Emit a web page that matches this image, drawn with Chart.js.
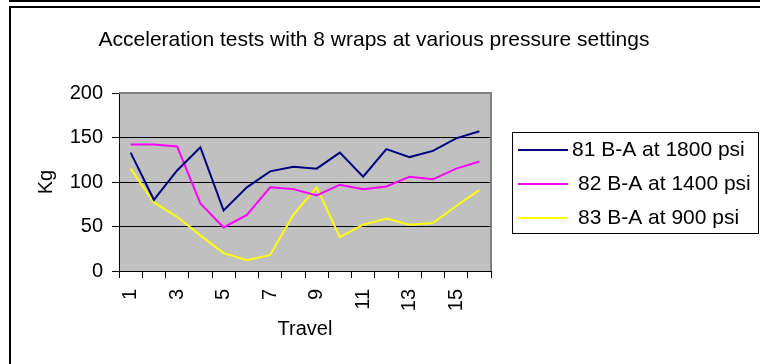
<!DOCTYPE html>
<html>
<head>
<meta charset="utf-8">
<style>
  html, body { margin: 0; padding: 0; background: #fff; }
  #wrap { position: relative; width: 760px; height: 364px; overflow: hidden; }
  #chart { position: absolute; left: 0; top: 0; }
  .rule { position: absolute; background: #000; }
</style>
<script src="https://cdn.jsdelivr.net/npm/chart.js@4/dist/chart.umd.min.js"></script>
</head>
<body>
<div id="wrap">
  <canvas id="chart" width="760" height="364"></canvas>
  <div class="rule" style="left:9px; top:0; width:751px; height:2px;"></div>
  <div class="rule" style="left:9px; top:6px; width:751px; height:2px;"></div>
  <div class="rule" style="left:9px; top:6px; width:2px; height:358px;"></div>
</div>
<script>
// Travel positions 1..16
const categories = ['1','2','3','4','5','6','7','8','9','10','11','12','13','14','15','16'];

// Measured load (Kg) per run
const run81 = [133, 80, 113, 139, 68, 94, 112, 117, 115, 133, 106, 137, 128, 135, 149, 157];
const run82 = [142, 142, 140, 76, 49, 63, 94, 92, 85, 97, 92, 95, 106, 103, 115, 123];
const run83 = [115, 77, 61, 40, 20, 12, 18, 63, 94, 38, 52, 59, 52, 54, 73, 91];

const seriesLabels = ['81 B-A at 1800 psi', '82 B-A at 1400 psi', '83 B-A at 900 psi'];
const seriesColors = ['#000080', '#FF00FF', '#FFFF00'];

const yTicks = [0, 50, 100, 150, 200];

const titleText = 'Acceleration tests with 8 wraps at various pressure settings';
const FONT = "'Liberation Sans', Arial, sans-serif";
const FS = 19;       // axis title text
const FS_BIG = 21;   // heading and legend text

// Grey plot background with a light frame on top and right
const plotFrame = {
  id: 'plotFrame',
  beforeDraw(chart) {
    const { ctx, chartArea: a } = chart;
    ctx.save();
    ctx.fillStyle = '#C0C0C0';
    ctx.fillRect(a.left, a.top, a.right - a.left, a.bottom - a.top);
    ctx.restore();
  },
  beforeDatasetsDraw(chart) {
    const { ctx, chartArea: a } = chart;
    ctx.save();
    ctx.strokeStyle = '#808080';
    ctx.lineWidth = 2;
    ctx.beginPath();
    ctx.moveTo(a.left, a.top);
    ctx.lineTo(a.right, a.top);
    ctx.lineTo(a.right, a.bottom);
    ctx.stroke();
    ctx.restore();
  }
};

// Heading text above the plot
const heading = {
  id: 'heading',
  afterDraw(chart, args, opts) {
    const { ctx } = chart;
    ctx.save();
    ctx.font = `${FS_BIG}px ${FONT}`;
    ctx.fillStyle = '#000';
    ctx.textAlign = 'center';
    ctx.textBaseline = 'middle';
    ctx.fillText(opts.text, opts.x, opts.y);
    ctx.restore();
  }
};

// Boxed legend to the right of the plot
const boxLegend = {
  id: 'boxLegend',
  afterDraw(chart, args, opts) {
    const { ctx } = chart;
    ctx.save();
    ctx.fillStyle = '#fff';
    ctx.fillRect(opts.left, opts.top, opts.width, opts.height);
    ctx.strokeStyle = '#000';
    ctx.lineWidth = 1;
    ctx.strokeRect(opts.left + 0.5, opts.top + 0.5, opts.width, opts.height);
    ctx.font = `${FS_BIG}px ${FONT}`;
    ctx.textBaseline = 'middle';
    ctx.textAlign = 'left';
    chart.data.datasets.forEach((ds, i) => {
      const y = opts.rows[i];
      ctx.strokeStyle = ds.borderColor;
      ctx.lineWidth = 2;
      ctx.beginPath();
      ctx.moveTo(opts.left + 6, y);
      ctx.lineTo(opts.left + 56, y);
      ctx.stroke();
      ctx.fillStyle = '#000';
      ctx.fillText(ds.label, opts.textX[i], y);
    });
    ctx.restore();
  }
};

const datasets = [run81, run82, run83].map((vals, i) => ({
  label: seriesLabels[i],
  data: vals,
  borderColor: seriesColors[i],
  backgroundColor: seriesColors[i],
  borderWidth: 2,
  pointRadius: 0,
  tension: 0,
  fill: false
}));

new Chart(document.getElementById('chart'), {
  type: 'line',
  data: { labels: categories, datasets },
  plugins: [plotFrame, heading, boxLegend],
  options: {
    responsive: false,
    animation: false,
    layout: { padding: { left: 0, top: 93, right: 269, bottom: 0 } },
    plugins: {
      legend: { display: false },
      title: { display: false },
      tooltip: { enabled: false },
      heading: { text: titleText, x: 374, y: 40 },
      boxLegend: { left: 512, top: 132, width: 246, height: 101, rows: [150, 184, 218], textX: [572, 578, 578] }
    },
    scales: {
      x: {
        type: 'category',
        offset: true,
        afterFit(scale) { scale.height = 93; },
        grid: { display: true, drawOnChartArea: false, drawTicks: true, tickLength: 7, offset: true, color: '#000', tickColor: '#000' },
        border: { display: true, color: '#000', width: 1 },
        ticks: {
          autoSkip: false,
          minRotation: 90,
          maxRotation: 90,
          padding: 11,
          color: '#000',
          font: { family: FONT, size: 20 },
          callback(value, index) { return index % 2 === 0 ? categories[index] : ''; }
        },
        title: { display: true, text: 'Travel', color: '#000', font: { family: FONT, size: 20 }, padding: { top: 0, bottom: 23 } }
      },
      y: {
        min: 0,
        max: 200,
        afterFit(scale) { scale.width = 119; },
        afterBuildTicks(scale) { scale.ticks = yTicks.map(v => ({ value: v })); },
        grid: {
          color: ctx => (ctx.tick && ctx.tick.value === 200) ? 'rgba(0,0,0,0)' : '#000',
          tickColor: '#000',
          tickLength: 7,
          lineWidth: 1
        },
        border: { display: true, color: '#000', width: 1 },
        ticks: { padding: 9, color: '#000', font: { family: FONT, size: 20 } },
        title: { display: true, text: 'Kg', color: '#000', font: { family: FONT, size: 20 }, padding: { top: 34, bottom: 0 } }
      }
    }
  }
});
</script>
</body>
</html>
